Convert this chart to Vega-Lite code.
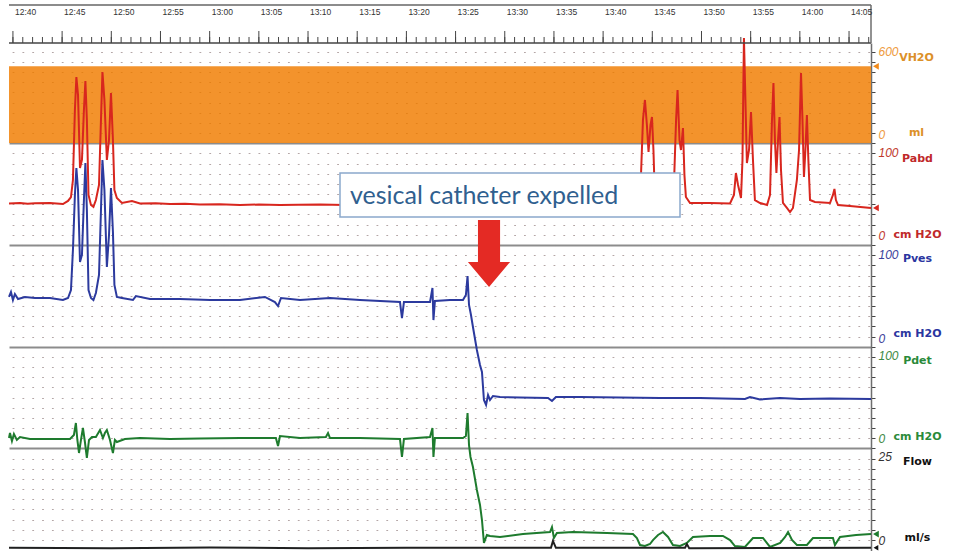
{
 "$schema": "https://vega.github.io/schema/vega-lite/v6.json",
 "width": 862, "height": 508,
 "autosize": {"type": "none"},
 "padding": {"left": 9, "top": 43, "right": 84, "bottom": 0},
 "background": "white",
 "config": {"view": {"stroke": null}},
 "resolve": {"scale": {"y": "independent"}, "axis": {"y": "independent"}},
 "layer": [
  {
   "data": {"values": [{"t":"12:39:36","v":460},{"t":"14:07:14","v":460}], "format": {"parse": {"t": "date:'%H:%M:%S'"}}},
   "mark": {"type": "area", "color": "#f28a1a", "opacity": 0.92},
   "encoding": {
    "x": {"field":"t","type":"temporal","scale":{"domain":[{"year":1900,"month":1,"date":1,"hours":12,"minutes":39,"seconds":36},{"year":1900,"month":1,"date":1,"hours":14,"minutes":7,"seconds":14}],"nice":false},"axis":null},
    "y": {"field":"v","type":"quantitative","scale":{"domain":[-2448,600],"nice":false,"zero":false},
      "axis":{"orient":"right","values":[0,600],"domain":false,"ticks":false,"tickSize":0,"grid":false,"labelPadding":7,"labelAlign":"left","labelFont":"Liberation Sans","labelFontSize":12,"labelFontStyle":"italic","labelColor":"#ee9a3c","labelBaseline":{"condition":{"test":"datum.value > 0","value":"top"},"value":"bottom"},"labelOffset":{"condition":{"test":"datum.value > 0","value":3},"value":-2},"labelFlush":false,"labelOverlap":false,"labelBound":false,"title":["VH2O","ml"],"titleAngle":0,"titleAlign":"center","titleBaseline":"top","titleX":45,"titleY":8,"titleLineHeight":75,"titleFont":"DejaVu Sans","titleFontSize":11,"titleFontWeight":"bold","titleColor":"#dc9028"}},
    "y2": {"datum": 0}
   }
  },
  {
   "data": {"values": [
    {"t":"12:39:36","v":9.8},{"t":"12:39:42","v":14.7},{"t":"12:39:54","v":6.9},{"t":"12:40:06","v":13.8},{"t":"12:40:24","v":7.9},{"t":"12:40:43","v":10.8},{"t":"12:41:44","v":8.8},{"t":"12:43:46","v":8.8},{"t":"12:45:48","v":8.8},{"t":"12:46:12","v":12.8},{"t":"12:46:24","v":24.6},{"t":"12:46:33","v":7.9},{"t":"12:46:43","v":-4.9},{"t":"12:46:55","v":7.9},{"t":"12:47:07","v":19.7},{"t":"12:47:19","v":5.9},{"t":"12:47:31","v":-9.8},{"t":"12:47:44","v":7.9},{"t":"12:48:02","v":10.8},{"t":"12:48:26","v":10.8},{"t":"12:48:51","v":17.7},{"t":"12:49:09","v":9.8},{"t":"12:49:21","v":14.7},{"t":"12:49:33","v":17.7},{"t":"12:49:52","v":7.9},{"t":"12:50:10","v":-4.9},{"t":"12:50:22","v":7.9},{"t":"12:50:34","v":5.9},{"t":"12:51:23","v":8.8},{"t":"12:52:55","v":9.8},{"t":"12:55:58","v":8.8},{"t":"12:59:01","v":9.3},{"t":"13:03:05","v":9.8},{"t":"13:06:44","v":9.8},{"t":"13:06:57","v":2.0},{"t":"13:07:09","v":11.8},{"t":"13:09:11","v":9.8},{"t":"13:11:49","v":10.8},{"t":"13:12:02","v":14.7},{"t":"13:12:14","v":9.8},{"t":"13:15:17","v":9.8},{"t":"13:19:21","v":8.8},{"t":"13:19:33","v":-8.8},{"t":"13:19:45","v":8.8},{"t":"13:22:24","v":10.8},{"t":"13:22:39","v":19.7},{"t":"13:22:45","v":-8.8},{"t":"13:22:54","v":9.8},{"t":"13:24:26","v":9.8},{"t":"13:25:45","v":9.8},{"t":"13:26:03","v":11.8},{"t":"13:26:13","v":34.4},{"t":"13:26:22","v":2.9},{"t":"13:26:31","v":-8.8},{"t":"13:26:46","v":-18.7},{"t":"13:27:10","v":-41.3},{"t":"13:27:29","v":-56.0},{"t":"13:27:41","v":-70.8},{"t":"13:27:53","v":-93.4},{"t":"13:28:11","v":-85.5},{"t":"13:28:30","v":-86.5},{"t":"13:29:31","v":-87.5},{"t":"13:31:51","v":-84.6},{"t":"13:34:36","v":-82.6},{"t":"13:34:48","v":-77.7},{"t":"13:35:00","v":-88.5},{"t":"13:35:18","v":-83.6},{"t":"13:36:56","v":-82.6},{"t":"13:40:23","v":-83.6},{"t":"13:43:02","v":-84.6},{"t":"13:43:26","v":-88.5},{"t":"13:43:45","v":-95.4},{"t":"13:44:15","v":-96.4},{"t":"13:44:46","v":-94.4},{"t":"13:45:04","v":-90.5},{"t":"13:45:35","v":-85.5},{"t":"13:46:05","v":-82.6},{"t":"13:46:36","v":-87.5},{"t":"13:47:06","v":-95.4},{"t":"13:47:49","v":-96.4},{"t":"13:48:31","v":-93.4},{"t":"13:49:08","v":-87.5},{"t":"13:50:52","v":-86.5},{"t":"13:52:11","v":-86.5},{"t":"13:52:54","v":-90.5},{"t":"13:53:24","v":-96.4},{"t":"13:54:25","v":-97.3},{"t":"13:55:14","v":-88.5},{"t":"13:56:15","v":-88.5},{"t":"13:56:58","v":-97.3},{"t":"13:58:00","v":-93.4},{"t":"13:58:30","v":-87.5},{"t":"13:58:48","v":-82.6},{"t":"13:59:12","v":-90.5},{"t":"13:59:42","v":-95.4},{"t":"14:00:43","v":-95.4},{"t":"14:01:20","v":-88.5},{"t":"14:03:22","v":-88.5},{"t":"14:03:34","v":-95.4},{"t":"14:04:05","v":-87.5},{"t":"14:05:43","v":-85.5},{"t":"14:07:14","v":-84.6}
   ], "format": {"parse": {"t": "date:'%H:%M:%S'"}}},
   "mark": {"type": "line", "color": "#1e7b2e", "strokeWidth": 2},
   "encoding": {
    "x": {"field":"t","type":"temporal","scale":{"domain":[{"year":1900,"month":1,"date":1,"hours":12,"minutes":39,"seconds":36},{"year":1900,"month":1,"date":1,"hours":14,"minutes":7,"seconds":14}],"nice":false},"axis":null},
    "y": {"field":"v","type":"quantitative","scale":{"domain":[-101.28,398.23],"nice":false,"zero":false},
      "axis":{"orient":"right","values":[0,100],"domain":false,"ticks":false,"tickSize":0,"grid":false,"labelPadding":7,"labelAlign":"left","labelFont":"Liberation Sans","labelFontSize":12,"labelFontStyle":"italic","labelColor":"#3d8a45","labelBaseline":{"condition":{"test":"datum.value > 0","value":"top"},"value":"bottom"},"labelOffset":{"condition":{"test":"datum.value > 0","value":4},"value":-2},"labelFlush":false,"labelOverlap":false,"title":["Pdet","cm H2O"],"titleAngle":0,"titleAlign":"center","titleBaseline":"top","titleX":46,"titleY":311,"titleLineHeight":76,"titleFont":"DejaVu Sans","titleFontSize":11,"titleFontWeight":"bold","titleColor":"#2a8a3a"}}
   }
  },
  {
   "data": {"values": [
    {"t":"12:39:36","v":49.2},{"t":"12:39:48","v":54.1},{"t":"12:40:00","v":46.2},{"t":"12:40:12","v":52.1},{"t":"12:40:31","v":47.2},{"t":"12:41:13","v":49.2},{"t":"12:42:14","v":48.2},{"t":"12:43:46","v":48.2},{"t":"12:45:05","v":46.2},{"t":"12:45:36","v":48.2},{"t":"12:45:54","v":56.0},{"t":"12:46:06","v":95.4},{"t":"12:46:18","v":149.5},{"t":"12:46:27","v":176.0},{"t":"12:46:37","v":154.4},{"t":"12:46:49","v":83.6},{"t":"12:47:01","v":90.5},{"t":"12:47:13","v":144.5},{"t":"12:47:22","v":180.9},{"t":"12:47:31","v":134.7},{"t":"12:47:41","v":56.0},{"t":"12:47:56","v":48.2},{"t":"12:48:11","v":46.2},{"t":"12:48:26","v":53.1},{"t":"12:48:45","v":70.8},{"t":"12:48:57","v":134.7},{"t":"12:49:06","v":183.9},{"t":"12:49:18","v":154.4},{"t":"12:49:33","v":78.7},{"t":"12:49:46","v":110.1},{"t":"12:49:58","v":156.3},{"t":"12:50:10","v":113.1},{"t":"12:50:19","v":61.0},{"t":"12:50:34","v":49.2},{"t":"12:51:05","v":48.2},{"t":"12:52:12","v":46.2},{"t":"12:52:30","v":50.1},{"t":"12:53:56","v":47.2},{"t":"12:56:59","v":47.2},{"t":"13:00:02","v":46.2},{"t":"13:03:05","v":46.2},{"t":"13:05:37","v":49.2},{"t":"13:06:38","v":44.2},{"t":"13:06:57","v":40.3},{"t":"13:07:15","v":48.2},{"t":"13:09:11","v":46.2},{"t":"13:12:14","v":48.2},{"t":"13:15:17","v":46.2},{"t":"13:19:21","v":44.2},{"t":"13:19:33","v":28.5},{"t":"13:19:45","v":44.2},{"t":"13:22:24","v":44.2},{"t":"13:22:39","v":58.0},{"t":"13:22:45","v":26.5},{"t":"13:22:54","v":45.2},{"t":"13:24:26","v":46.2},{"t":"13:25:45","v":46.2},{"t":"13:26:03","v":51.1},{"t":"13:26:13","v":69.8},{"t":"13:26:22","v":41.3},{"t":"13:26:34","v":31.5},{"t":"13:26:46","v":19.7},{"t":"13:27:10","v":-2.9},{"t":"13:27:29","v":-17.7},{"t":"13:27:41","v":-24.6},{"t":"13:27:53","v":-52.1},{"t":"13:28:06","v":-57.0},{"t":"13:28:18","v":-47.2},{"t":"13:28:30","v":-52.1},{"t":"13:28:48","v":-48.2},{"t":"13:29:31","v":-49.2},{"t":"13:31:33","v":-49.7},{"t":"13:34:24","v":-50.1},{"t":"13:34:48","v":-53.1},{"t":"13:35:12","v":-49.2},{"t":"13:37:39","v":-49.2},{"t":"13:41:43","v":-49.7},{"t":"13:45:47","v":-50.1},{"t":"13:49:51","v":-50.1},{"t":"13:54:25","v":-51.1},{"t":"13:54:56","v":-49.2},{"t":"13:55:57","v":-51.6},{"t":"13:57:59","v":-50.1},{"t":"14:00:01","v":-51.1},{"t":"14:03:04","v":-50.6},{"t":"14:07:14","v":-51.1}
   ], "format": {"parse": {"t": "date:'%H:%M:%S'"}}},
   "mark": {"type": "line", "color": "#2c3a9e", "strokeWidth": 2},
   "encoding": {
    "x": {"field":"t","type":"temporal","scale":{"domain":[{"year":1900,"month":1,"date":1,"hours":12,"minutes":39,"seconds":36},{"year":1900,"month":1,"date":1,"hours":14,"minutes":7,"seconds":14}],"nice":false},"axis":null},
    "y": {"field":"v","type":"quantitative","scale":{"domain":[-200.59,298.92],"nice":false,"zero":false},
      "axis":{"orient":"right","values":[0,100],"domain":false,"ticks":false,"tickSize":0,"grid":false,"labelPadding":7,"labelAlign":"left","labelFont":"Liberation Sans","labelFontSize":12,"labelFontStyle":"italic","labelColor":"#3b3f9a","labelBaseline":{"condition":{"test":"datum.value > 0","value":"top"},"value":"bottom"},"labelOffset":{"condition":{"test":"datum.value > 0","value":4},"value":-2},"labelFlush":false,"labelOverlap":false,"title":["Pves","cm H2O"],"titleAngle":0,"titleAlign":"center","titleBaseline":"top","titleX":46,"titleY":209,"titleLineHeight":75,"titleFont":"DejaVu Sans","titleFontSize":11,"titleFontWeight":"bold","titleColor":"#2a35a0"}}
   }
  },
  {
   "data": {"values": [
    {"t":"12:39:36","v":40.8},{"t":"12:40:43","v":41.3},{"t":"12:41:30","v":40.6},{"t":"12:42:14","v":41.0},{"t":"12:43:46","v":41.3},{"t":"12:45:05","v":40.3},{"t":"12:45:36","v":43.3},{"t":"12:45:54","v":47.2},{"t":"12:46:06","v":63.9},{"t":"12:46:18","v":132.7},{"t":"12:46:27","v":165.2},{"t":"12:46:37","v":147.5},{"t":"12:46:49","v":75.7},{"t":"12:47:01","v":83.6},{"t":"12:47:13","v":132.7},{"t":"12:47:22","v":161.3},{"t":"12:47:31","v":122.9},{"t":"12:47:41","v":49.2},{"t":"12:47:56","v":39.3},{"t":"12:48:11","v":37.4},{"t":"12:48:26","v":44.2},{"t":"12:48:45","v":59.0},{"t":"12:48:57","v":122.9},{"t":"12:49:06","v":170.1},{"t":"12:49:18","v":142.6},{"t":"12:49:33","v":83.6},{"t":"12:49:46","v":103.2},{"t":"12:49:58","v":149.5},{"t":"12:50:10","v":103.2},{"t":"12:50:19","v":54.1},{"t":"12:50:34","v":46.2},{"t":"12:51:05","v":41.3},{"t":"12:52:06","v":43.3},{"t":"12:52:55","v":40.8},{"t":"12:54:30","v":41.0},{"t":"12:55:58","v":40.3},{"t":"12:57:30","v":40.6},{"t":"12:59:01","v":39.8},{"t":"13:01:00","v":40.1},{"t":"13:03:05","v":39.3},{"t":"13:05:00","v":39.8},{"t":"13:07:09","v":39.3},{"t":"13:09:00","v":39.6},{"t":"13:11:13","v":39.8},{"t":"13:13:45","v":39.3},{"t":"13:19:21","v":39.3},{"t":"13:26:28","v":38.8},{"t":"13:34:36","v":38.3},{"t":"13:41:43","v":38.3},{"t":"13:43:33","v":39.3},{"t":"13:43:51","v":68.8},{"t":"13:44:03","v":122.9},{"t":"13:44:15","v":142.6},{"t":"13:44:27","v":118.0},{"t":"13:44:37","v":91.4},{"t":"13:44:49","v":118.0},{"t":"13:44:58","v":125.9},{"t":"13:45:07","v":93.4},{"t":"13:45:16","v":44.2},{"t":"13:45:47","v":39.3},{"t":"13:47:00","v":40.3},{"t":"13:47:12","v":59.0},{"t":"13:47:25","v":122.9},{"t":"13:47:34","v":152.4},{"t":"13:47:46","v":103.2},{"t":"13:47:55","v":93.4},{"t":"13:48:07","v":115.0},{"t":"13:48:16","v":68.8},{"t":"13:48:25","v":47.2},{"t":"13:48:50","v":41.3},{"t":"13:50:52","v":41.3},{"t":"13:52:54","v":40.8},{"t":"13:53:18","v":49.2},{"t":"13:53:30","v":70.8},{"t":"13:53:43","v":59.0},{"t":"13:54:01","v":46.2},{"t":"13:54:10","v":83.6},{"t":"13:54:19","v":203.5},{"t":"13:54:28","v":142.6},{"t":"13:54:37","v":80.6},{"t":"13:54:50","v":93.4},{"t":"13:55:02","v":130.8},{"t":"13:55:14","v":83.6},{"t":"13:55:26","v":44.2},{"t":"13:55:57","v":41.3},{"t":"13:56:40","v":39.3},{"t":"13:56:58","v":49.2},{"t":"13:57:10","v":122.9},{"t":"13:57:19","v":159.3},{"t":"13:57:28","v":103.2},{"t":"13:57:37","v":70.8},{"t":"13:57:47","v":103.2},{"t":"13:57:56","v":125.9},{"t":"13:58:05","v":73.7},{"t":"13:58:17","v":41.3},{"t":"13:58:41","v":36.4},{"t":"13:59:00","v":32.4},{"t":"13:59:18","v":36.4},{"t":"13:59:42","v":63.9},{"t":"13:59:55","v":93.4},{"t":"14:00:07","v":169.1},{"t":"14:00:16","v":122.9},{"t":"14:00:25","v":66.9},{"t":"14:00:34","v":93.4},{"t":"14:00:43","v":127.8},{"t":"14:00:52","v":83.6},{"t":"14:01:02","v":44.2},{"t":"14:01:32","v":42.3},{"t":"14:03:04","v":41.3},{"t":"14:03:22","v":49.2},{"t":"14:03:31","v":55.1},{"t":"14:03:40","v":44.2},{"t":"14:03:53","v":39.3},{"t":"14:05:06","v":38.3},{"t":"14:07:14","v":36.4}
   ], "format": {"parse": {"t": "date:'%H:%M:%S'"}}},
   "mark": {"type": "line", "color": "#d8261e", "strokeWidth": 2},
   "encoding": {
    "x": {"field":"t","type":"temporal","scale":{"domain":[{"year":1900,"month":1,"date":1,"hours":12,"minutes":39,"seconds":36},{"year":1900,"month":1,"date":1,"hours":14,"minutes":7,"seconds":14}],"nice":false},"axis":null},
    "y": {"field":"v","type":"quantitative","scale":{"domain":[-300.89,198.62],"nice":false,"zero":false},
      "axis":{"orient":"right","values":[0,100],"domain":false,"ticks":false,"tickSize":0,"grid":false,"labelPadding":7,"labelAlign":"left","labelFont":"Liberation Sans","labelFontSize":12,"labelFontStyle":"italic","labelColor":"#c0392b","labelBaseline":{"condition":{"test":"datum.value > 0","value":"top"},"value":"bottom"},"labelOffset":{"condition":{"test":"datum.value > 0","value":4},"value":-2},"labelFlush":false,"labelOverlap":false,"title":["Pabd","cm H2O"],"titleAngle":0,"titleAlign":"center","titleBaseline":"top","titleX":46,"titleY":109,"titleLineHeight":76,"titleFont":"DejaVu Sans","titleFontSize":11,"titleFontWeight":"bold","titleColor":"#c0282a"}}
   }
  },
  {
   "data": {"values": [
    {"t":"12:39:36","v":0.3},{"t":"12:50:00","v":0.2},{"t":"13:00:00","v":0.4},{"t":"13:10:00","v":0.2},{"t":"13:20:00","v":0.3},{"t":"13:34:42","v":0.3},{"t":"13:34:54","v":2.0},{"t":"13:35:12","v":0.3},{"t":"13:48:20","v":0.3},{"t":"13:48:31","v":1.2},{"t":"13:48:45","v":0.2},{"t":"14:07:14","v":0.3}
   ], "format": {"parse": {"t": "date:'%H:%M:%S'"}}},
   "mark": {"type": "line", "color": "#202020", "strokeWidth": 2},
   "encoding": {
    "x": {"field":"t","type":"temporal","scale":{"domain":[{"year":1900,"month":1,"date":1,"hours":12,"minutes":39,"seconds":36},{"year":1900,"month":1,"date":1,"hours":14,"minutes":7,"seconds":14}],"nice":false},"axis":null},
    "y": {"field":"v","type":"quantitative","scale":{"domain":[-0.49,124.39],"nice":false,"zero":false},
      "axis":{"orient":"right","values":[0,25],"domain":false,"ticks":false,"tickSize":0,"grid":false,"labelPadding":7,"labelAlign":"left","labelFont":"Liberation Sans","labelFontSize":12,"labelFontStyle":"italic","labelColor":"#333333","labelBaseline":{"condition":{"test":"datum.value > 0","value":"top"},"value":"bottom"},"labelOffset":{"condition":{"test":"datum.value > 0","value":4},"value":-2},"labelFlush":false,"labelOverlap":false,"title":["Flow","ml/s"],"titleAngle":0,"titleAlign":"center","titleBaseline":"top","titleX":46,"titleY":412,"titleLineHeight":76,"titleFont":"DejaVu Sans","titleFontSize":11,"titleFontWeight":"bold","titleColor":"#111111"}}
   }
  },
  {
   "data": {"values": [{"t":"14:07:44","v":460}], "format": {"parse": {"t": "date:'%H:%M:%S'"}}},
   "mark": {"type": "point", "shape": "triangle-left", "size": 45, "filled": true, "opacity": 1, "color": "#f28a1a"},
   "encoding": {
    "x": {"field":"t","type":"temporal","scale":{"domain":[{"year":1900,"month":1,"date":1,"hours":12,"minutes":39,"seconds":36},{"year":1900,"month":1,"date":1,"hours":14,"minutes":7,"seconds":14}],"nice":false},"axis":null},
    "y": {"field":"v","type":"quantitative","scale":{"domain":[-2448,600],"nice":false,"zero":false},"axis":null}
   }
  },
  {
   "data": {"values": [{"t":"14:07:44","v":36.4}], "format": {"parse": {"t": "date:'%H:%M:%S'"}}},
   "mark": {"type": "point", "shape": "triangle-left", "size": 45, "filled": true, "opacity": 1, "color": "#d8261e"},
   "encoding": {
    "x": {"field":"t","type":"temporal","scale":{"domain":[{"year":1900,"month":1,"date":1,"hours":12,"minutes":39,"seconds":36},{"year":1900,"month":1,"date":1,"hours":14,"minutes":7,"seconds":14}],"nice":false},"axis":null},
    "y": {"field":"v","type":"quantitative","scale":{"domain":[-300.89,198.62],"nice":false,"zero":false},"axis":null}
   }
  },
  {
   "data": {"values": [{"t":"14:07:44","v":-84.6}], "format": {"parse": {"t": "date:'%H:%M:%S'"}}},
   "mark": {"type": "point", "shape": "triangle-left", "size": 45, "filled": true, "opacity": 1, "color": "#1e7b2e"},
   "encoding": {
    "x": {"field":"t","type":"temporal","scale":{"domain":[{"year":1900,"month":1,"date":1,"hours":12,"minutes":39,"seconds":36},{"year":1900,"month":1,"date":1,"hours":14,"minutes":7,"seconds":14}],"nice":false},"axis":null},
    "y": {"field":"v","type":"quantitative","scale":{"domain":[-101.28,398.23],"nice":false,"zero":false},"axis":null}
   }
  },
  {
   "data": {"values": [{"t":"14:07:44","v":0.3}], "format": {"parse": {"t": "date:'%H:%M:%S'"}}},
   "mark": {"type": "point", "shape": "triangle-left", "size": 30, "filled": true, "opacity": 1, "color": "#111111"},
   "encoding": {
    "x": {"field":"t","type":"temporal","scale":{"domain":[{"year":1900,"month":1,"date":1,"hours":12,"minutes":39,"seconds":36},{"year":1900,"month":1,"date":1,"hours":14,"minutes":7,"seconds":14}],"nice":false},"axis":null},
    "y": {"field":"v","type":"quantitative","scale":{"domain":[-0.49,124.39],"nice":false,"zero":false},"axis":null}
   }
  },
  {
   "data": {"values": [{"t1":"13:13:15","t2":"13:47:49","v1":70.8,"v2":27.5}], "format": {"parse": {"t1": "date:'%H:%M:%S'", "t2": "date:'%H:%M:%S'"}}},
   "mark": {"type": "rect", "fill": "white", "stroke": "#8aa8cc", "strokeWidth": 1.5},
   "encoding": {
    "x": {"field":"t1","type":"temporal","scale":{"domain":[{"year":1900,"month":1,"date":1,"hours":12,"minutes":39,"seconds":36},{"year":1900,"month":1,"date":1,"hours":14,"minutes":7,"seconds":14}],"nice":false},"axis":null},
    "x2": {"field":"t2"},
    "y": {"field":"v1","type":"quantitative","scale":{"domain":[-300.89,198.62],"nice":false,"zero":false},
      "axis":{"orient":"left","zindex":0,"values":[-290,-280,-270,-260,-250,-240,-230,-220,-210,-200,-190,-180,-170,-160,-150,-140,-130,-120,-110,-100,-90,-80,-70,-60,-50,-40,-30,-20,-10,0,10,20,30,40,50,60,70,80,90,100,110,120,130,140,150,160,170,180,190],"domain":false,"ticks":false,"labels":false,"title":null,"grid":true,
       "gridColor":{"condition":[{"test":"datum.value % 100 === 0","value":"#8c8c8c"},{"test":"datum.value > 105 && datum.value < 175","value":"#3a2a20"}],"value":"#b4a6a6"},
       "gridWidth":{"condition":{"test":"datum.value % 100 === 0","value":2},"value":1.2},
       "gridDash":{"condition":{"test":"datum.value % 100 === 0","value":[1,0]},"value":[1.8,8.035]},
       "gridDashOffset":6.735}},
    "y2": {"field":"v2"}
   }
  },
  {
   "data": {"values": [{"t":"13:14:16","v":48.2,"label":"vesical catheter expelled"}], "format": {"parse": {"t": "date:'%H:%M:%S'"}}},
   "mark": {"type": "text", "align": "left", "baseline": "middle", "font": "Lato", "fontSize": 25, "color": "#30608f"},
   "encoding": {
    "x": {"field":"t","type":"temporal","scale":{"domain":[{"year":1900,"month":1,"date":1,"hours":12,"minutes":39,"seconds":36},{"year":1900,"month":1,"date":1,"hours":14,"minutes":7,"seconds":14}],"nice":false},"axis":null},
    "y": {"field":"v","type":"quantitative","scale":{"domain":[-300.89,198.62],"nice":false,"zero":false},
      "axis":{"orient":"right","values":[-290,-280,-270,-260,-250,-240,-230,-220,-210,-200,-190,-180,-170,-160,-150,-140,-130,-120,-110,-100,-90,-80,-70,-60,-50,-40,-30,-20,-10,0,10,20,30,40,50,60,70,80,90,100,110,120,130,140,150,160,170,180,190],"domain":true,"domainColor":"#6e6e6e","domainWidth":1.5,"ticks":true,"tickSize":4,"tickColor":"#444444","tickWidth":1,"labels":false,"grid":false,"title":null}},
    "text": {"field":"label","type":"nominal"}
   }
  },
  {
   "data": {"values": [{}]},
   "mark": {"type": "rule", "color": "#8c8c8c", "strokeWidth": 2},
   "encoding": {
    "x": {"datum":{"year":1900,"month":1,"date":1,"hours":12,"minutes":39,"seconds":36},"type":"temporal","scale":{"domain":[{"year":1900,"month":1,"date":1,"hours":12,"minutes":39,"seconds":36},{"year":1900,"month":1,"date":1,"hours":14,"minutes":7,"seconds":14}],"nice":false},"axis":null},
    "x2": {"datum":{"year":1900,"month":1,"date":1,"hours":14,"minutes":7,"seconds":14}},
    "y": {"datum": 235.99, "type":"quantitative","scale":{"domain":[-300.89,198.62],"nice":false,"zero":false},"axis":null}
   }
  },
  {
   "data": {"values": [{}]},
   "mark": {"type": "rule", "color": "#444444", "strokeWidth": 1.5},
   "encoding": {
    "x": {"datum":{"year":1900,"month":1,"date":1,"hours":12,"minutes":39,"seconds":36},"type":"temporal","scale":{"domain":[{"year":1900,"month":1,"date":1,"hours":12,"minutes":39,"seconds":36},{"year":1900,"month":1,"date":1,"hours":14,"minutes":7,"seconds":14}],"nice":false},"axis":null},
    "x2": {"datum":{"year":1900,"month":1,"date":1,"hours":14,"minutes":7,"seconds":14}},
    "y": {"datum": 198.62, "type":"quantitative","scale":{"domain":[-300.89,198.62],"nice":false,"zero":false},"axis":null}
   }
  },
  {
   "data": {"values": [{}]},
   "mark": {"type": "rule", "color": "#6e6e6e", "strokeWidth": 1.5},
   "encoding": {
    "x": {"datum":{"year":1900,"month":1,"date":1,"hours":14,"minutes":7,"seconds":14},"type":"temporal","scale":{"domain":[{"year":1900,"month":1,"date":1,"hours":12,"minutes":39,"seconds":36},{"year":1900,"month":1,"date":1,"hours":14,"minutes":7,"seconds":14}],"nice":false},"axis":null},
    "y": {"datum": 198.62, "type":"quantitative","scale":{"domain":[-300.89,198.62],"nice":false,"zero":false},"axis":null},
    "y2": {"datum": 235.99}
   }
  },
  {
   "data": {"values": [
    {"t":"12:40:00"},{"t":"12:41:00"},{"t":"12:42:00"},{"t":"12:43:00"},{"t":"12:44:00"},{"t":"12:45:00"},{"t":"12:46:00"},{"t":"12:47:00"},{"t":"12:48:00"},{"t":"12:49:00"},{"t":"12:50:00"},{"t":"12:51:00"},{"t":"12:52:00"},{"t":"12:53:00"},{"t":"12:54:00"},{"t":"12:55:00"},{"t":"12:56:00"},{"t":"12:57:00"},{"t":"12:58:00"},{"t":"12:59:00"},
    {"t":"13:00:00"},{"t":"13:01:00"},{"t":"13:02:00"},{"t":"13:03:00"},{"t":"13:04:00"},{"t":"13:05:00"},{"t":"13:06:00"},{"t":"13:07:00"},{"t":"13:08:00"},{"t":"13:09:00"},{"t":"13:10:00"},{"t":"13:11:00"},{"t":"13:12:00"},{"t":"13:13:00"},{"t":"13:14:00"},{"t":"13:15:00"},{"t":"13:16:00"},{"t":"13:17:00"},{"t":"13:18:00"},{"t":"13:19:00"},{"t":"13:20:00"},{"t":"13:21:00"},{"t":"13:22:00"},{"t":"13:23:00"},{"t":"13:24:00"},{"t":"13:25:00"},{"t":"13:26:00"},{"t":"13:27:00"},{"t":"13:28:00"},{"t":"13:29:00"},
    {"t":"13:30:00"},{"t":"13:31:00"},{"t":"13:32:00"},{"t":"13:33:00"},{"t":"13:34:00"},{"t":"13:35:00"},{"t":"13:36:00"},{"t":"13:37:00"},{"t":"13:38:00"},{"t":"13:39:00"},{"t":"13:40:00"},{"t":"13:41:00"},{"t":"13:42:00"},{"t":"13:43:00"},{"t":"13:44:00"},{"t":"13:45:00"},{"t":"13:46:00"},{"t":"13:47:00"},{"t":"13:48:00"},{"t":"13:49:00"},{"t":"13:50:00"},{"t":"13:51:00"},{"t":"13:52:00"},{"t":"13:53:00"},{"t":"13:54:00"},{"t":"13:55:00"},{"t":"13:56:00"},{"t":"13:57:00"},{"t":"13:58:00"},{"t":"13:59:00"},
    {"t":"14:00:00"},{"t":"14:01:00"},{"t":"14:02:00"},{"t":"14:03:00"},{"t":"14:04:00"},{"t":"14:05:00"},{"t":"14:06:00"},{"t":"14:07:00"}
   ], "format": {"parse": {"t": "date:'%H:%M:%S'"}}},
   "mark": {"type": "rule", "color": "#444444", "strokeWidth": 1},
   "encoding": {
    "x": {"field":"t","type":"temporal","scale":{"domain":[{"year":1900,"month":1,"date":1,"hours":12,"minutes":39,"seconds":36},{"year":1900,"month":1,"date":1,"hours":14,"minutes":7,"seconds":14}],"nice":false},"axis":null},
    "y": {"datum": 198.62, "type":"quantitative","scale":{"domain":[-300.89,198.62],"nice":false,"zero":false},"axis":null},
    "y2": {"datum": 204.52}
   }
  },
  {
   "data": {"values": [
    {"tick":"12:40:00"},{"tick":"12:45:00"},{"tick":"12:50:00"},{"tick":"12:55:00"},{"tick":"13:00:00"},{"tick":"13:05:00"},{"tick":"13:10:00"},{"tick":"13:15:00"},{"tick":"13:20:00"},{"tick":"13:25:00"},{"tick":"13:30:00"},{"tick":"13:35:00"},{"tick":"13:40:00"},{"tick":"13:45:00"},{"tick":"13:50:00"},{"tick":"13:55:00"},{"tick":"14:00:00"},{"tick":"14:05:00"}
   ], "format": {"parse": {"tick": "date:'%H:%M:%S'"}}},
   "mark": {"type": "rule", "color": "#444444", "strokeWidth": 1},
   "encoding": {
    "x": {"field":"tick","type":"temporal","scale":{"domain":[{"year":1900,"month":1,"date":1,"hours":12,"minutes":39,"seconds":36},{"year":1900,"month":1,"date":1,"hours":14,"minutes":7,"seconds":14}],"nice":false},"axis":null},
    "y": {"datum": 198.62, "type":"quantitative","scale":{"domain":[-300.89,198.62],"nice":false,"zero":false},"axis":null},
    "y2": {"datum": 210.42}
   }
  },
  {
   "data": {"values": [
    {"time":"12:40:00"},{"time":"12:45:00"},{"time":"12:50:00"},{"time":"12:55:00"},{"time":"13:00:00"},{"time":"13:05:00"},{"time":"13:10:00"},{"time":"13:15:00"},{"time":"13:20:00"},{"time":"13:25:00"},{"time":"13:30:00"},{"time":"13:35:00"},{"time":"13:40:00"},{"time":"13:45:00"},{"time":"13:50:00"},{"time":"13:55:00"},{"time":"14:00:00"},{"time":"14:05:00"}
   ], "format": {"parse": {"time": "date:'%H:%M:%S'"}}},
   "mark": {"type": "text", "align": "left", "baseline": "middle", "dx": 2, "font": "Liberation Sans", "fontSize": 8.5, "color": "#333333"},
   "encoding": {
    "x": {"field":"time","type":"temporal","scale":{"domain":[{"year":1900,"month":1,"date":1,"hours":12,"minutes":39,"seconds":36},{"year":1900,"month":1,"date":1,"hours":14,"minutes":7,"seconds":14}],"nice":false},"axis":null},
    "y": {"datum": 229.1, "type":"quantitative","scale":{"domain":[-300.89,198.62],"nice":false,"zero":false},"axis":null},
    "text": {"field":"time","type":"temporal","format":"%H:%M"}
   }
  },
  {
   "data": {"values": [{"t":"13:28:24","v":-8.4}], "format": {"parse": {"t": "date:'%H:%M:%S'"}}},
   "mark": {"type": "point", "shape": "M -0.33 -1 L 0.33 -1 L 0.33 0.25 L 0.63 0.25 L 0 1 L -0.63 0.25 L -0.33 0.25 Z", "size": 4489, "filled": true, "opacity": 1, "color": "#e42a24", "strokeWidth": 0},
   "encoding": {
    "x": {"field":"t","type":"temporal","scale":{"domain":[{"year":1900,"month":1,"date":1,"hours":12,"minutes":39,"seconds":36},{"year":1900,"month":1,"date":1,"hours":14,"minutes":7,"seconds":14}],"nice":false},"axis":null},
    "y": {"field":"v","type":"quantitative","scale":{"domain":[-300.89,198.62],"nice":false,"zero":false},"axis":null}
   }
  }
 ]
}
